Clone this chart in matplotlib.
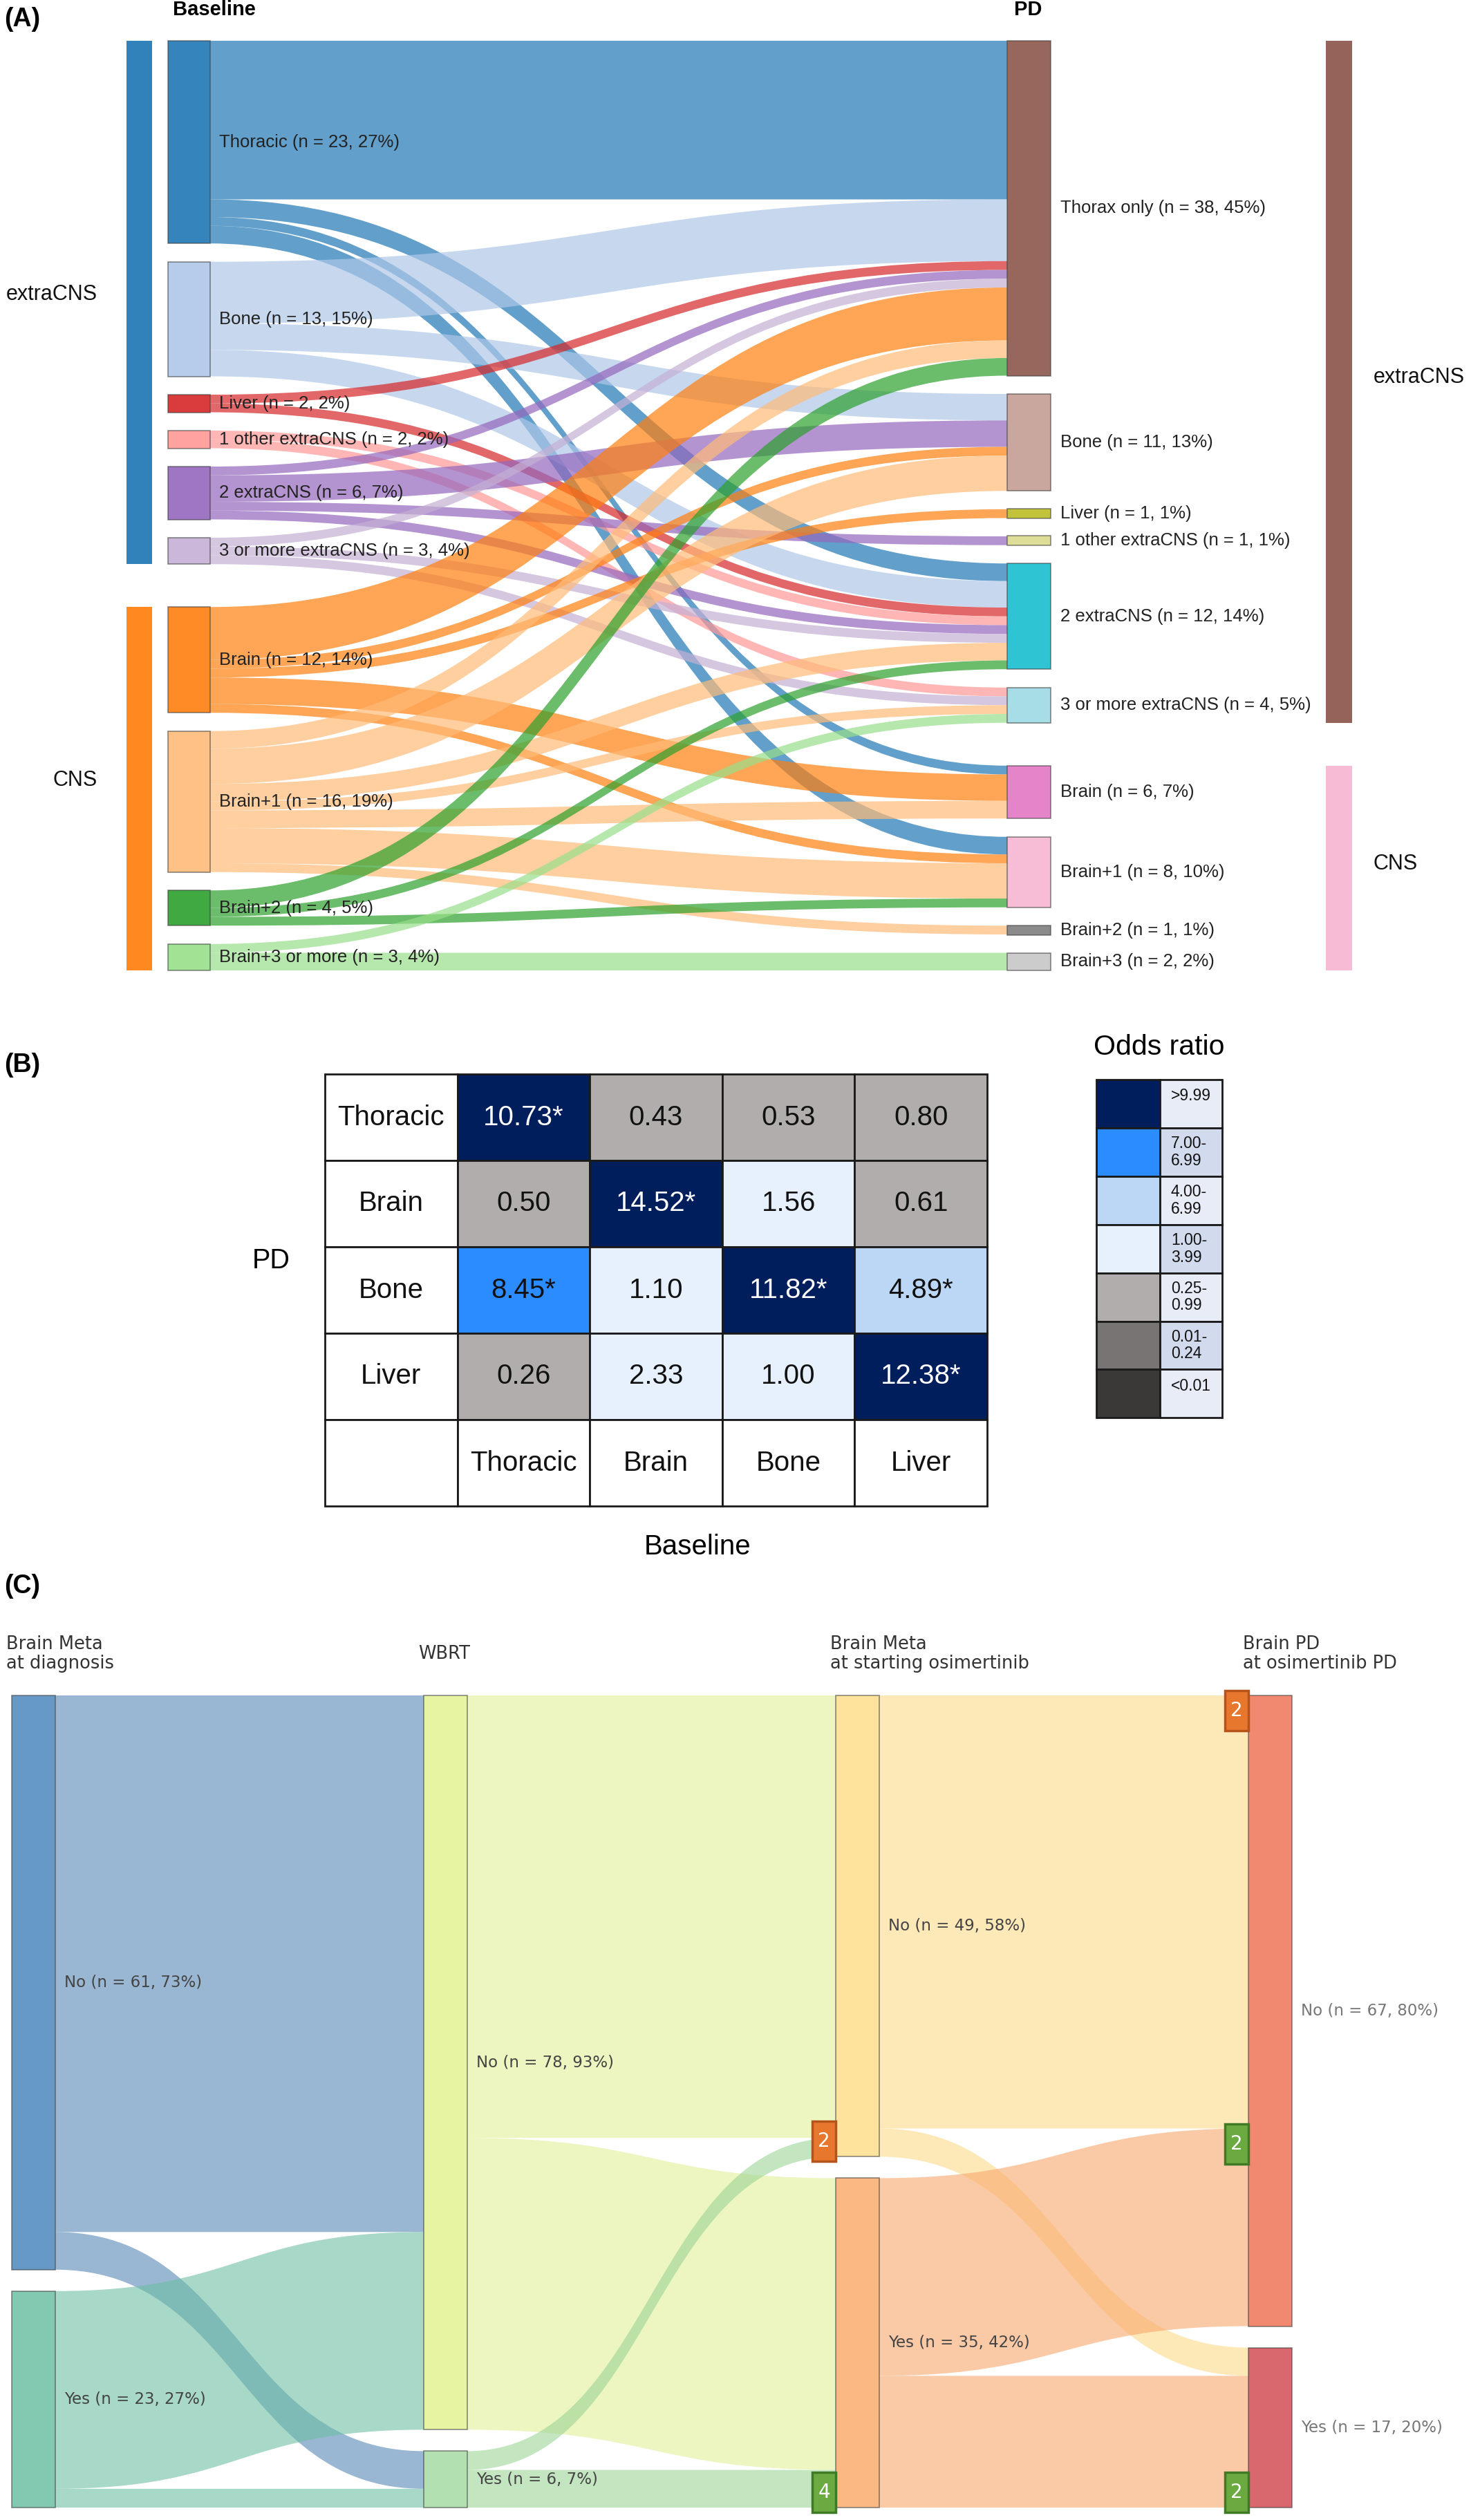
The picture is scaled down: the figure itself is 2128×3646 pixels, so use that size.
import matplotlib
matplotlib.use('Agg')
import matplotlib.pyplot as plt
from matplotlib.patches import Rectangle, PathPatch
from matplotlib.path import Path
from matplotlib.colors import ListedColormap, BoundaryNorm, to_rgba

# ---------------- data ----------------
# (A) baseline -> PD sankey
base_labels = ['Thoracic', 'Bone', 'Liver', '1 other extraCNS', '2 extraCNS',
               '3 or more extraCNS', 'Brain', 'Brain+1', 'Brain+2', 'Brain+3 or more']
base_n = [23, 13, 2, 2, 6, 3, 12, 16, 4, 3]
base_colors = ['#1f77b4', '#aec7e8', '#d62728', '#ff9896', '#9467bd',
               '#c5b0d5', '#ff7f0e', '#ffbb78', '#2ca02c', '#98df8a']
pd_labels = ['Thorax only', 'Bone', 'Liver', '1 other extraCNS', '2 extraCNS',
             '3 or more extraCNS', 'Brain', 'Brain+1', 'Brain+2', 'Brain+3']
pd_n = [38, 11, 1, 1, 12, 4, 6, 8, 1, 2]
pd_colors = ['#8c564b', '#c49c94', '#bcbd22', '#dbdb8d', '#17becf',
             '#9edae5', '#e377c2', '#f7b6d2', '#7f7f7f', '#c7c7c7']
# (baseline index, PD index, n)
flows_a = [
    (0, 0, 18), (0, 4, 2), (0, 6, 1), (0, 7, 2),
    (1, 0, 7), (1, 1, 3), (1, 4, 3),
    (2, 0, 1), (2, 4, 1),
    (3, 4, 1), (3, 5, 1),
    (4, 0, 1), (4, 1, 3), (4, 3, 1), (4, 4, 1),
    (5, 0, 1), (5, 4, 1), (5, 5, 1),
    (6, 0, 6), (6, 1, 1), (6, 2, 1), (6, 6, 3), (6, 7, 1),
    (7, 0, 2), (7, 1, 4), (7, 4, 2), (7, 5, 1), (7, 6, 2), (7, 7, 4), (7, 8, 1),
    (8, 0, 2), (8, 4, 1), (8, 7, 1),
    (9, 5, 1), (9, 9, 2),
]
group_names = ['extraCNS', 'CNS']
group_of_node = [0, 0, 0, 0, 0, 0, 1, 1, 1, 1]
base_group_colors = ['#1f77b4', '#ff7f0e']
pd_group_colors = ['#8c564b', '#f7b6d2']

# (B) odds ratios
or_rows = ['Thoracic', 'Brain', 'Bone', 'Liver']
or_cols = ['Thoracic', 'Brain', 'Bone', 'Liver']
or_vals = [[10.73, 0.43, 0.53, 0.80],
           [0.50, 14.52, 1.56, 0.61],
           [8.45, 1.10, 11.82, 4.89],
           [0.26, 2.33, 1.00, 12.38]]
or_sig = [[1, 0, 0, 0], [0, 1, 0, 0], [1, 0, 1, 1], [0, 0, 0, 1]]
or_bounds = [0, 0.01, 0.25, 1.0, 4.0, 7.0, 10.0, 1000]
or_colors = ['#3b3938', '#777473', '#b0adac', '#e6f1fd', '#bcd7f6', '#2b8cff', '#001e5c']
or_legend = ['>9.99', '7.00-\n6.99', '4.00-\n6.99', '1.00-\n3.99', '0.25-\n0.99', '0.01-\n0.24', '<0.01']

# (C) brain metastasis sankey
c_stages = ['Brain Meta\nat diagnosis', 'WBRT', 'Brain Meta\nat starting osimertinib',
            'Brain PD\nat osimertinib PD']
c_nodes = ['No', 'Yes']
c_n = [[61, 23], [78, 6], [49, 35], [67, 17]]
c_node_colors = [['#6699c5', '#83c9b1'], ['#e7f5a3', '#b3e0b0'],
                 ['#fde39b', '#fbb883'], ['#f0896f', '#d8676e']]
c_link_colors = [['#5587b6', '#6ebea3'], ['#e1f099', '#9bd496'], ['#fcda89', '#f8a76c']]
# per stage transition: (from node, to node, n)
c_flows = [
    [(0, 0, 57), (0, 1, 4), (1, 0, 21), (1, 1, 2)],
    [(0, 0, 47), (0, 1, 31), (1, 0, 2), (1, 1, 4)],
    [(0, 0, 46), (0, 1, 3), (1, 0, 21), (1, 1, 14)],
]
# (stage, node, unit position, anchor, text, kind)
c_badges = [(2, 0, 49, 'bottom', '2', 'orange'), (2, 1, 35, 'bottom', '4', 'green'),
            (3, 0, 0, 'top', '2', 'orange'), (3, 0, 46, 'top', '2', 'green'),
            (3, 1, 17, 'bottom', '2', 'green')]
badge_style = {'orange': ('#e8772e', '#b5541a'), 'green': ('#6aaa40', '#3f7a25')}

# ---------------- helpers ----------------
W, H = 2128, 3646
fig = plt.figure(figsize=(W / 100, H / 100), dpi=100)
ax = fig.add_axes([0, 0, 1, 1])
ax.set_xlim(0, W)
ax.set_ylim(H, 0)
ax.axis('off')

ARIAL = 'Liberation Sans'


def stack(sizes, y0, scale, gaps):
    tops = []
    y = y0
    for i, s in enumerate(sizes):
        tops.append(y)
        y += s * scale
        if i < len(gaps):
            y += gaps[i]
    return tops


def ribbon(x0, x1, ya, yb, h, color, alpha):
    xm = (x0 + x1) / 2
    verts = [(x0, ya), (xm, ya), (xm, yb), (x1, yb), (x1, yb + h),
             (xm, yb + h), (xm, ya + h), (x0, ya + h), (x0, ya)]
    codes = [Path.MOVETO, Path.CURVE4, Path.CURVE4, Path.CURVE4, Path.LINETO,
             Path.CURVE4, Path.CURVE4, Path.CURVE4, Path.CLOSEPOLY]
    ax.add_patch(PathPatch(Path(verts, codes), facecolor=to_rgba(color, alpha),
                           edgecolor='none', lw=0))


def draw_links(flows, src_tops, tgt_tops, x0, x1, scale, colors, alpha):
    s_pos, t_pos = {}, {}
    cur = {}
    for s, t, v in sorted(flows, key=lambda f: (f[0], f[1])):
        s_pos[(s, t)] = src_tops[s] + cur.get(s, 0)
        cur[s] = cur.get(s, 0) + v * scale
    cur = {}
    for s, t, v in sorted(flows, key=lambda f: (f[1], f[0])):
        t_pos[(s, t)] = tgt_tops[t] + cur.get(t, 0)
        cur[t] = cur.get(t, 0) + v * scale
    for s, t, v in flows:
        ribbon(x0, x1, s_pos[(s, t)], t_pos[(s, t)], v * scale, colors[s], alpha)
    return s_pos, t_pos


def node(x, y, w, h, color, alpha=0.9):
    ax.add_patch(Rectangle((x, y), w, h, facecolor=to_rgba(color, alpha),
                           edgecolor=(0.25, 0.25, 0.25, 0.6), lw=1.2))


def label(n, total):
    return f'(n = {n}, {round(100 * n / total)}%)'


# ---------------- panel A ----------------
total_a = sum(base_n)
sc_a = 12.75
gaps_a = [26.5 if group_of_node[i] == group_of_node[i + 1] else 62 for i in range(len(base_n) - 1)]
top_a = 59
lx0, lx1 = 243, 304
rx0, rx1 = 1457, 1520
btops = stack(base_n, top_a, sc_a, gaps_a)
ptops = stack(pd_n, top_a, sc_a, gaps_a)

draw_links(flows_a, btops, ptops, lx1, rx0, sc_a, base_colors, 0.7)

for i, n in enumerate(base_n):
    node(lx0, btops[i], lx1 - lx0, n * sc_a, base_colors[i])
    ax.text(lx1 + 13, btops[i] + n * sc_a / 2, f'{base_labels[i]} {label(n, total_a)}',
            fontsize=18.5, family=ARIAL, color='#222222', va='center', ha='left')
for i, n in enumerate(pd_n):
    h = max(n * sc_a, 14)
    node(rx0, ptops[i] + n * sc_a / 2 - h / 2, rx1 - rx0, h, pd_colors[i])
    ax.text(rx1 + 14, ptops[i] + n * sc_a / 2, f'{pd_labels[i]} {label(n, total_a)}',
            fontsize=18.5, family=ARIAL, color='#222222', va='center', ha='left')

for g, name in enumerate(group_names):
    idx = [i for i in range(len(base_n)) if group_of_node[i] == g]
    y0 = btops[idx[0]]
    y1 = btops[idx[-1]] + base_n[idx[-1]] * sc_a
    ax.add_patch(Rectangle((183, y0), 37, y1 - y0, facecolor=to_rgba(base_group_colors[g], 0.92),
                           edgecolor='none'))
    ax.text(141, (y0 + y1) / 2 - 12, name, fontsize=22, family=ARIAL, ha='right', va='center',
            color='#111111')
    y0 = ptops[idx[0]]
    y1 = ptops[idx[-1]] + pd_n[idx[-1]] * sc_a
    ax.add_patch(Rectangle((1918, y0), 38, y1 - y0, facecolor=to_rgba(pd_group_colors[g], 0.92),
                           edgecolor='none'))
    ax.text(1987, (y0 + y1) / 2 - 6, name, fontsize=22, family=ARIAL, ha='left', va='center',
            color='#111111')

ax.text(250, 14, 'Baseline', fontsize=21, family=ARIAL, weight='bold', va='center')
ax.text(1467, 14, 'PD', fontsize=21, family=ARIAL, weight='bold', va='center')
ax.text(6, 28, '(A)', fontsize=27, family=ARIAL, weight='bold', va='center')

# ---------------- panel B ----------------
cmap = ListedColormap(or_colors)
norm = BoundaryNorm(or_bounds, cmap.N)
tx0, ty0 = 470, 1554
cw, ch = 191.6, 125
ncol = len(or_cols) + 1
nrow = len(or_rows) + 1
for r in range(nrow):
    for c in range(ncol):
        x, y = tx0 + c * cw, ty0 + r * ch
        fc = 'white'
        txt = ''
        tc = '#111111'
        if r < len(or_rows) and c == 0:
            txt = or_rows[r]
        elif r == len(or_rows) and c > 0:
            txt = or_cols[c - 1]
        elif r < len(or_rows):
            v = or_vals[r][c - 1]
            fc = cmap(norm(v))
            txt = f'{v:.2f}' + ('*' if or_sig[r][c - 1] else '')
            lum = 0.299 * fc[0] + 0.587 * fc[1] + 0.114 * fc[2]
            tc = 'white' if lum < 0.35 else '#111111'
        ax.add_patch(Rectangle((x, y), cw, ch, facecolor=fc, edgecolor='#1a1a1a', lw=2))
        if txt:
            ax.text(x + cw / 2, y + ch / 2, txt, fontsize=29, family=ARIAL, color=tc,
                    ha='center', va='center')
ax.text(392, ty0 + 2 * ch + 20, 'PD', fontsize=28.5, family=ARIAL, ha='center', va='center')
ax.text(tx0 + 2.5 * cw + 60, 2238, 'Baseline', fontsize=29, family=ARIAL, ha='center', va='center')
ax.text(6, 1541, '(B)', fontsize=27, family=ARIAL, weight='bold', va='center')

# legend
lgx0, lgx1, lgx2 = 1586, 1678, 1768
lgy0, lgh = 1562, 69.9
ax.text((lgx0 + lgx2) / 2, 1515, 'Odds ratio', fontsize=29.5, family=ARIAL, ha='center', va='center')
for k, txt in enumerate(or_legend):
    y = lgy0 + k * lgh
    col = or_colors[len(or_colors) - 1 - k]
    ax.add_patch(Rectangle((lgx0, y), lgx1 - lgx0, lgh, facecolor=col, edgecolor='#1a1a1a', lw=2))
    bg = '#e8ecf7' if k % 2 == 0 else '#d2daed'
    ax.add_patch(Rectangle((lgx1, y), lgx2 - lgx1, lgh, facecolor=bg, edgecolor='#1a1a1a', lw=2))
    ax.text(lgx1 + 16, y + (lgh / 2 if '\n' in txt else 24), txt, fontsize=16.5, family=ARIAL,
            ha='left', va='center', linespacing=1.1, color='#111111')

# ---------------- panel C ----------------
total_c = sum(c_n[0])
sc_c = 13.62
top_c = 2453
gap_c = 31
cxs = [17, 613, 1209, 1806]
cw_c = 63
ctops = [stack(ns, top_c, sc_c, [gap_c]) for ns in c_n]

for k, flows in enumerate(c_flows):
    draw_links(flows, ctops[k], ctops[k + 1], cxs[k] + cw_c, cxs[k + 1], sc_c, c_link_colors[k], 0.6)

for k, ns in enumerate(c_n):
    for i, n in enumerate(ns):
        node(cxs[k], ctops[k][i], cw_c, n * sc_c, c_node_colors[k][i], alpha=1.0)
        ax.text(cxs[k] + cw_c + 13, ctops[k][i] + n * sc_c / 2, f'{c_nodes[i]} {label(n, total_c)}',
                fontsize=16.5, family='DejaVu Sans', color='#777777' if k == 3 else '#444444',
                ha='left', va='center')
    hx = cxs[k] - 8 if k > 0 else 9
    ax.text(hx, 2393, c_stages[k], fontsize=18.5, family='DejaVu Sans', color='#333333',
            ha='left', va='center', linespacing=1.1)

bw, bh = 34, 58
for k, i, u, anchor, txt, kind in c_badges:
    y = ctops[k][i] + u * sc_c
    yt = y - 7 if anchor == 'top' else y - bh + 7
    fc, ec = badge_style[kind]
    ax.add_patch(Rectangle((cxs[k] - bw, yt), bw, bh, facecolor=fc, edgecolor=ec, lw=2.5))
    ax.text(cxs[k] - bw / 2, yt + bh / 2, txt, fontsize=20, family='DejaVu Sans', color='white',
            ha='center', va='center')

ax.text(6, 2295, '(C)', fontsize=27, family=ARIAL, weight='bold', va='center')

fig.savefig('out.png', dpi=100, facecolor='white')
